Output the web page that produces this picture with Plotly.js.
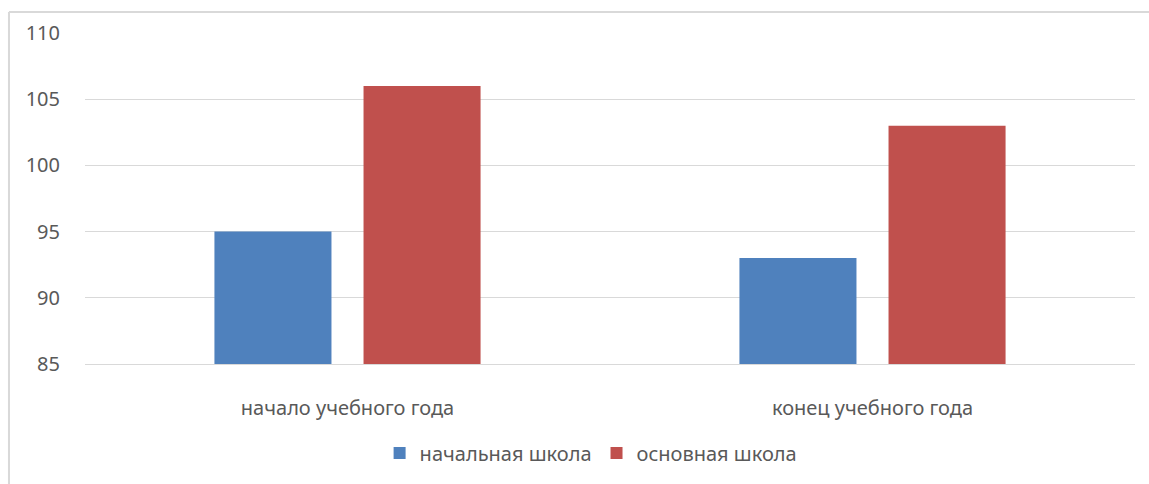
<!DOCTYPE html>
<html><head><meta charset="utf-8">
<script src="https://cdn.plot.ly/plotly-3.0.1.min.js"></script>
<style>body{margin:0;background:#fff}#chart{width:1149px;height:484px}</style>
</head><body><div id="chart"></div>
<script>
const categories = ["начало учебного года", "конец учебного года"];
const seriesNames = ["начальная школа", "основная школа"];
const primarySchool = [95, 93];
const basicSchool = [106, 103];
const yTicks = [85, 90, 95, 100, 105, 110];

const font = {family: "Noto Sans, sans-serif", size: 20, color: "#595959"};
const data = [
  {type: "bar", name: seriesNames[0], x: categories, y: primarySchool, marker: {color: "#4F81BD"}},
  {type: "bar", name: seriesNames[1], x: categories, y: basicSchool, marker: {color: "#C0504D"}}
];
const layout = {
  width: 1149, height: 484,
  margin: {l: 85, r: 14, t: 33, b: 120},
  paper_bgcolor: "#fff", plot_bgcolor: "#fff",
  font: font,
  barmode: "group", bargap: 0.432, bargroupgap: 0.215,
  xaxis: {showgrid: false, showline: true, linecolor: "#D9D9D9", linewidth: 1,
          ticks: "outside", ticklen: 26, tickcolor: "rgba(0,0,0,0)", tickfont: font},
  yaxis: {range: [85, 110], tickvals: yTicks, showgrid: true, gridcolor: "#D9D9D9",
          zeroline: false, showline: false, ticks: "outside", ticklen: 20,
          tickcolor: "rgba(0,0,0,0)", tickfont: font},
  legend: {orientation: "h", x: 0.482, xanchor: "center", y: -0.269, yanchor: "middle",
           font: font, itemwidth: 30, tracegroupgap: 0},
  shapes: [
    {type: "line", xref: "paper", yref: "paper", x0: -0.0724, x1: -0.0724, y0: 1.0634, y1: -0.4, line: {color: "#D9D9D9", width: 2}},
    {type: "line", xref: "paper", yref: "paper", x0: -0.0724, x1: 1.02, y0: 1.0634, y1: 1.0634, line: {color: "#D9D9D9", width: 2}}
  ],
  showlegend: true
};
Plotly.newPlot("chart", data, layout, {displayModeBar: false, staticPlot: true});
</script></body></html>
